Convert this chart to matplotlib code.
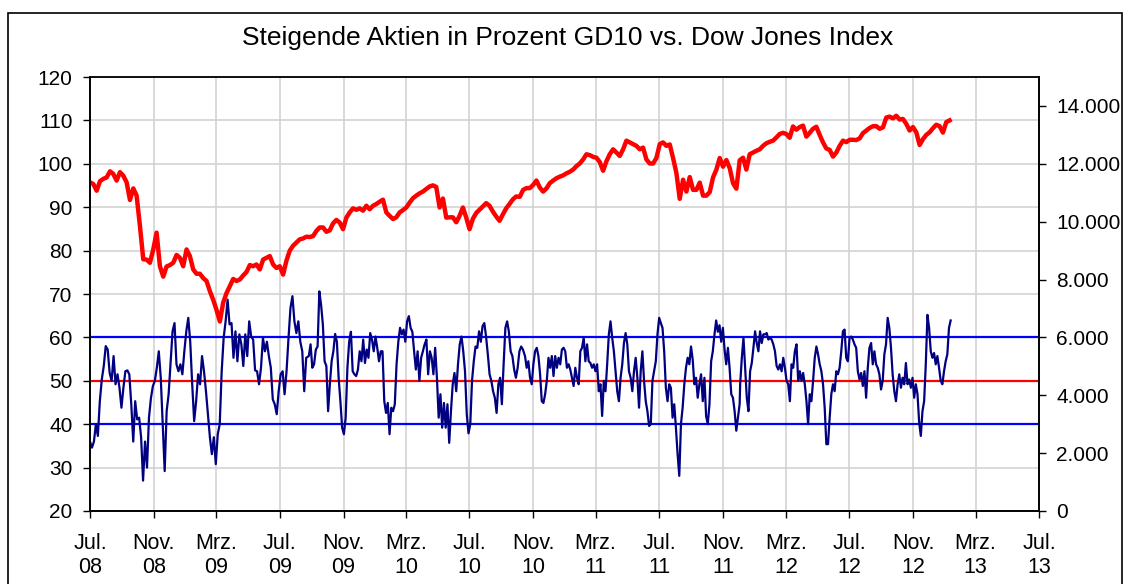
import matplotlib
matplotlib.use("Agg")
import matplotlib.pyplot as plt
from matplotlib.patches import Rectangle
from matplotlib.ticker import FuncFormatter
import numpy as np
import pandas as pd

plt.rcParams['font.family'] = ['Liberation Sans', 'DejaVu Sans']

title = "Steigende Aktien in Prozent GD10 vs. Dow Jones Index"

# x axis ticks every 4 months
tick_dates = pd.date_range("2008-07-01", "2013-07-01", freq="4MS")
tick_labels = ["Jul.\n08", "Nov.\n08", "Mrz.\n09", "Jul.\n09", "Nov.\n09", "Mrz.\n10",
               "Jul.\n10", "Nov.\n10", "Mrz.\n11", "Jul.\n11", "Nov.\n11", "Mrz.\n12",
               "Jul.\n12", "Nov.\n12", "Mrz.\n13", "Jul.\n13"]

# GD10 (% advancing stocks) in four stretches
gd10_a_span = ("2008-07-01", "2009-08-21")
gd10_a = [36, 34.6, 36, 40, 37.3, 45.3, 50.3, 53.4, 58, 57.2, 51.8, 50, 55.7, 49.2, 51.5, 48.4,
          43.8, 48.4, 52.2, 52.4, 51.5, 44.6, 36, 45.3, 41.1, 41.5, 37, 27, 36, 30, 41.5, 46,
          48.8, 50, 53, 56.8, 50.7, 40, 29.2, 43, 46.9, 54.1, 61.4, 63.3, 53.8, 52.2, 53.8,
          51.5, 56.8, 61.4, 64.5, 59, 49.2, 40.7, 45.3, 51.5, 49.2, 55.7, 52.2, 47.6, 42.3, 37,
          33.1, 37, 30.8, 37.7, 40, 52.2, 59.9, 63.7, 68.7, 63, 63.3, 55.3, 61.4, 54.5, 60.7,
          58.4, 53.4, 60.7, 55.7, 63.7, 60.2, 59.5, 52.4, 52.2, 49.2, 53, 59.9, 56.8, 59, 55.7,
          53, 45.7, 44.6, 42.3, 47.6, 51.5, 52.2, 46.9, 52.2, 59.9, 66.8, 69.5, 63.7, 61, 63.7,
          59, 56.8, 47.6, 55.3]
gd10_b_span = ("2009-08-26", "2010-10-12")
gd10_b = [55.7, 58.4, 53, 53.8, 57.2, 57.9, 70.6, 67.5, 63, 54.5, 53.4, 43, 49.2, 54.5, 56.8,
          60.8, 59, 50.7, 45.3, 39.2, 37.7, 41.5, 53, 59, 61.3, 52.2, 51.5, 51.1, 52.6, 56.8,
          54.5, 59.5, 54.1, 57.2, 55.3, 61, 59.5, 56.8, 60.2, 57.6, 54.5, 56.8, 56.8, 45.3, 42.6,
          44.9, 37.7, 43.8, 43, 44.6, 53.8, 59, 62.2, 60.7, 61.8, 59, 63.7, 64.9, 62.2, 61.3,
          56.8, 52.6, 56.8, 50, 55.3, 56.8, 58.4, 59.5, 51.5, 56.8, 55.3, 51.5, 57.6, 50.7, 41.5,
          46.9, 39.2, 44.9, 39.2, 44.6, 35.7, 43, 49.2, 51.8, 47.6, 53.8, 58.4, 60.2, 56.8, 52.2,
          42.3, 37.9, 40, 50, 54.5, 57.9, 57.6, 61.4, 59, 62.6, 63.3, 60.2, 56.1, 51.5, 50, 47.6,
          46.1, 42.6, 49.2, 50.7, 44.6, 53.8, 62.2, 63.7, 61.3, 56.8, 55.7, 52.6, 50.7, 53, 56.8,
          57.9, 57.2]
gd10_c_span = ("2010-10-16", "2011-12-03")
gd10_c = [55.7, 53, 54.5, 50.7, 49.2, 53.8, 56.8, 57.6, 55.7, 51.5, 45.3, 44.9, 46.9, 50, 55.3,
          53, 55.7, 51.1, 55.7, 53, 55.3, 53.8, 57.2, 57.6, 56.8, 53, 53.8, 52.6, 50.7, 48.8, 53,
          50.7, 49.2, 56.8, 57.6, 59.9, 54.5, 58.4, 54.5, 54.1, 53, 53.8, 52.2, 53.8, 47.6, 49.2,
          41.9, 50, 47.6, 53.8, 60.7, 63.7, 59.9, 56.8, 52.2, 47.6, 45.3, 50.7, 53.8, 58.7, 61,
          58.4, 52.2, 50.7, 47.6, 52.2, 55.3, 50.7, 43.8, 52.2, 56.8, 50, 45.3, 43, 39.6, 40, 50,
          52.2, 54.5, 60.7, 64.5, 63.3, 62.2, 56.8, 48.4, 45.3, 49.2, 48.4, 41.5, 44.6, 39.2,
          33.1, 28.1, 40, 43.8, 49.2, 53, 55.3, 53.8, 57.9, 54.9, 49.2, 50.7, 46.1, 49.2, 51.5,
          45.3, 50.7, 41.9, 40, 44.6, 54.5, 56.8, 60.7, 63.9, 61.3, 62.8, 59, 62.2, 57.2, 53.8,
          57.6, 53, 46.9, 46.1, 43, 38.5, 41.5, 44.6]
gd10_d_span = ("2011-12-04", "2013-01-12")
gd10_d = [49.2, 55.3, 59.9, 53, 46.1, 43, 52.2, 54.1, 57.6, 61.4, 58.7, 56.8, 61.4, 58.7, 60.7,
          60.7, 61, 59.5, 59.9, 59.5, 58.4, 56.8, 53.4, 52.6, 53.8, 52.2, 55.3, 53, 50, 49.2,
          45.3, 53.8, 53, 56.8, 58.4, 50, 52.2, 50, 51.8, 49.2, 45.3, 40, 46.9, 45.3, 50, 55.3,
          57.9, 56.1, 53.8, 52.2, 49.2, 43.8, 35.4, 35.4, 41.5, 46.9, 49.2, 47.6, 52.2, 51.5, 53,
          56.8, 61.4, 61.8, 55.3, 54.5, 59.9, 60.2, 59.5, 58.4, 57.6, 52.2, 50.3, 51.8, 48.8,
          52.2, 46.1, 53, 57.6, 58.7, 53.8, 56.8, 53.8, 53, 51.5, 48, 50, 56.1, 58.4, 64.5, 62.2,
          57.6, 51.5, 47.6, 45.3, 49.2, 51.5, 48.4, 50.7, 49.2, 54.1, 49.2, 50.3, 48.4, 50.7,
          46.1, 49.2, 46.9, 40.4, 37.3, 43, 45.3, 53.8, 65.2, 62.2, 56.8, 55.3, 56.4, 53.8, 55.7,
          53, 50, 49.2, 52.2, 54.5, 56.1, 62.2, 63.9]

# Dow Jones Index in two stretches
djia_a_span = ("2008-07-01", "2010-09-29")
djia_a = [11360, 11300, 11070, 11400, 11480, 11530, 11740, 11650, 11420, 11710,
          11590, 11360, 10750, 11150, 10900, 9850, 8700, 8690, 8580, 9040,
          9620, 8460, 8100, 8450, 8500, 8580, 8850, 8750, 8460, 9040,
          8810, 8350, 8200, 8200, 8050, 7950, 7600, 7300, 6950, 6550,
          7200, 7530, 7770, 8020, 7950, 8000, 8140, 8260, 8500, 8460,
          8520, 8350, 8690, 8750, 8810, 8520, 8400, 8460, 8170, 8650,
          9000, 9170, 9280, 9390, 9420, 9480, 9470, 9500, 9680, 9800,
          9800, 9650, 9700, 9940, 10060, 9970, 9740, 10140, 10320, 10460,
          10410, 10460, 10380, 10550, 10430, 10550, 10610, 10690, 10760, 10320,
          10200, 10090, 10150, 10320, 10400, 10490, 10660, 10810, 10900, 10980,
          11040, 11130, 11215, 11255, 11200, 10490, 10800, 10140, 10150, 10150,
          9980, 10200, 10490, 10140, 9740, 10100, 10300, 10415, 10530, 10640,
          10550, 10350, 10180, 10030, 10250, 10460, 10610, 10770, 10870]
djia_b_span = ("2010-10-06", "2013-01-10")
djia_b = [10860, 11100, 11160, 11160, 11270, 11420, 11180, 11040, 11150, 11330,
          11420, 11500, 11555, 11600, 11670, 11725, 11800, 11920, 12010, 12150,
          12330, 12300, 12240, 12210, 12060, 11760, 12090, 12330, 12500, 12390,
          12270, 12500, 12800, 12740, 12680, 12620, 12500, 12560, 12150, 12010,
          12010, 12200, 12680, 12740, 12620, 12670, 12200, 11680, 10790, 11450,
          11040, 11540, 11100, 11100, 11350, 10900, 10900, 11020, 11530, 11800,
          12200, 11900, 12130, 11850, 11330, 11140, 12120, 12210, 11800, 12330,
          12390, 12450, 12500, 12620, 12710, 12760, 12800, 12910, 13030, 13070,
          13030, 12900, 13290, 13180, 13270, 13320, 12940, 13070, 13210, 13280,
          13000, 12740, 12530, 12480, 12250, 12390, 12620, 12800, 12750, 12830,
          12830, 12820, 12880, 13060, 13150, 13240, 13300, 13300, 13210, 13260,
          13600, 13630, 13570, 13660, 13530, 13550, 13380, 13150, 13270, 13090,
          12650, 12850, 13000, 13090, 13230, 13350, 13300, 13080, 13440, 13500]

band_low, band_mid, band_high = 40, 50, 60


def stretch(span, values):
    return pd.Series(values, index=pd.date_range(span[0], span[1], periods=len(values)))


gd10 = pd.concat([stretch(gd10_a_span, gd10_a), stretch(gd10_b_span, gd10_b),
                  stretch(gd10_c_span, gd10_c), stretch(gd10_d_span, gd10_d)])
djia = pd.concat([stretch(djia_a_span, djia_a), stretch(djia_b_span, djia_b)])

fig = plt.figure(figsize=(11.25, 5.84), dpi=100)
ax = fig.add_axes([90 / 1125, 1 - 511 / 584, (1039 - 90) / 1125, (511 - 77) / 584])
ax2 = ax.twinx()

ax.axhline(band_high, color="#0000FF", lw=1.6, zorder=2)
ax.axhline(band_low, color="#0000FF", lw=1.6, zorder=2)
ax.axhline(band_mid, color="#FF0000", lw=1.6, zorder=2)
ax.plot(gd10.index, gd10.values, color="#000080", lw=1.6, zorder=3)
ax2.plot(djia.index, djia.values, color="#FF0000", lw=3.2, solid_joinstyle="round")

ax.set_xlim(tick_dates[0], tick_dates[-1])
ax.set_ylim(20, 120)
ax.set_yticks(np.arange(20, 121, 10))
ax2.set_ylim(0, 15000)
ax2.set_yticks(np.arange(0, 14001, 2000))
ax2.yaxis.set_major_formatter(FuncFormatter(lambda v, p: f"{int(v):,}".replace(",", ".")))

ax.set_xticks(tick_dates)
ax.set_xticklabels(tick_labels, linespacing=1.15)

ax.grid(True, color="#D0D0D0", lw=1.1)
ax.set_axisbelow(True)

for a in (ax, ax2):
    a.tick_params(labelsize=15, length=5, width=1.0, direction="out", pad=7.5, colors="black")
    for s in a.spines.values():
        s.set_linewidth(1.2)
ax.tick_params(axis="x", pad=11, labelsize=15.5)
ax.spines["top"].set_color("#606060")

fig.text(568 / 1125, 1 - 38 / 584, title, ha="center", va="center", fontsize=19)

fig.patches.append(Rectangle((8 / 1125, -0.05), (1122 - 8) / 1125, 1.05 - 13 / 584,
                             transform=fig.transFigure, fill=False, edgecolor="black", lw=1.2))

fig.savefig("out.png", dpi=100)
plt.close(fig)
